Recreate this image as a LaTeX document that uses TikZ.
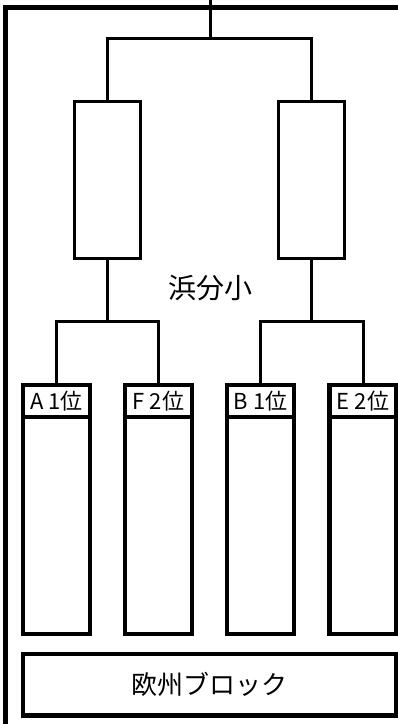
\documentclass[tikz,border=0pt]{standalone}
\usepackage{fontspec}
\setmainfont{Noto Sans CJK JP}
\begin{document}
\begin{tikzpicture}[x=1pt,y=-1pt,
  thin line/.style={line width=3pt},
  upper box/.style={draw,line width=3pt,minimum width=66.5pt,minimum height=156.5pt,inner sep=0pt,outer sep=0pt},
  team box/.style={draw,line width=4.3pt,minimum width=67pt,minimum height=249pt,inner sep=0pt,outer sep=0pt},
  band label/.style={font=\fontsize{22pt}{24pt}\selectfont,inner sep=0pt},
  big text/.style={font=\fontsize{28pt}{30pt}\selectfont,inner sep=0pt},
  frame line/.style={line width=4.5pt,line join=miter}
]
\useasboundingbox (0,0) rectangle (398,724);
% outer frame
\draw[frame line] (5.5,726) -- (5.5,7.5) -- (400,7.5);
% upper boxes
\node[upper box] (L) at (107.5,179.75) {};
\node[upper box] (R) at (311.5,179.75) {};
% top connector
\coordinate (top) at (210,-2);
\coordinate (j) at (210,38.5);
\draw[thin line] (top) -- (j);
\draw[thin line] (L.north) |- (j) -| (R.north);
% team boxes
\node[team box] (A) at (56.5,509.5) {};
\node[team box] (F) at (158.5,509.5) {};
\node[team box] (B) at (260.5,509.5) {};
\node[team box] (E) at (363,509.5) {};
% label bands
\foreach \n in {A,F,B,E}{
  \draw[line width=4.3pt] ([yshift=-32pt]\n.north west) -- ([yshift=-32pt]\n.north east);
}
\node[band label] (la) at (56.5,401) {A 1位};
\node[band label] (lf) at (158.5,401) {F 2位};
\node[band label] (lb) at (260.5,401) {B 1位};
\node[band label] (le) at (363,401) {E 2位};
% lower connectors
\coordinate (jl) at (107.5,321.5);
\coordinate (jr) at (311.5,321.5);
\draw[thin line] (L.south) -- (jl);
\draw[thin line] (A.north) |- (jl) -| (F.north);
\draw[thin line] (R.south) -- (jr);
\draw[thin line] (B.north) |- (jr) -| (E.north);
% middle text
\node[big text] (hama) at (210,288) {浜分小};
% Europe block
\node[draw,line width=4.3pt,minimum width=373.5pt,minimum height=61.5pt,inner sep=0pt,outer sep=0pt,font=\fontsize{26pt}{28pt}\selectfont] (eu) at (209.75,684.75) {欧州ブロック};
\end{tikzpicture}
\end{document}
